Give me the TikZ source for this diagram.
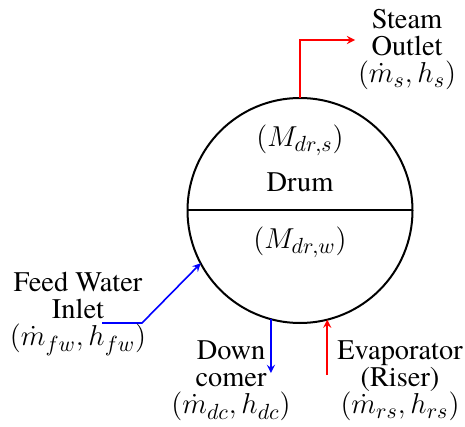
\documentclass[tikz,border=0pt]{standalone}
\usepackage{amsmath}
\usepackage{fontspec}
\setmainfont{texgyretermes}[Extension=.otf,UprightFont=*-regular,BoldFont=*-bold,ItalicFont=*-italic,BoldItalicFont=*-bolditalic]
\usepackage{tikz}
\usetikzlibrary{positioning}
\newcommand{\mline}[1]{\fontsize{15.5}{18.5}\selectfont$#1$}
\tikzset{
  lbl/.style={align=center,font=\fontsize{14.2}{13.5}\selectfont,inner sep=0},
  flow/.style={->,line width=0.8pt},
}

\begin{document}
\begin{tikzpicture}[>=stealth,x=0.5pt,y=-0.5pt]
  \useasboundingbox (0,0) rectangle (465,427);
  % ---- drum ----
  \node[draw,circle,line width=1pt,minimum size=112.5pt,inner sep=0,outer sep=0] (drum) at (300,210.5) {};
  \draw[line width=1pt] (drum.west) -- (drum.east);
  \node[lbl] (msteam) at (300,140) {\mline{(M_{dr,s})}};
  \node[lbl] (name) at (300,182) {Drum};
  \node[lbl] (mwater) at (300,242) {\mline{(M_{dr,w})}};
  % ---- steam outlet ----
  \coordinate (sbend) at (300,40);
  \coordinate (send) at (355,40);
  \draw[flow,red] (drum.north) -- (sbend) -- (send);
  \node[lbl] (steam) at (407,50) {Steam\\Outlet\\\mline{(\dot{m}_s,h_s)}};
  % ---- feed water inlet ----
  \coordinate (fstart) at (102,323);
  \coordinate (fbend) at (142,323);
  \draw[flow,blue] (fstart) -- (fbend) -- (drum.208.6);
  \node[lbl] (feed) at (78,314) {Feed Water\\Inlet\\\mline{(\dot{m}_{fw},h_{fw})}};
  % ---- downcomer ----
  \coordinate (dcend) at (272,373);
  \draw[flow,blue] (drum.255.6) -- (drum.255.6 |- dcend);
  \node[lbl] (down) at (231,381) {Down\\comer\\\mline{(\dot{m}_{dc},h_{dc})}};
  % ---- riser ----
  \coordinate (rsstart) at (328,375);
  \draw[flow,red] (drum.284.4 |- rsstart) -- (drum.284.4);
  \node[lbl] (riser) at (400,381) {Evaporator\\(Riser)\\\mline{(\dot{m}_{rs},h_{rs})}};
\end{tikzpicture}
\end{document}
